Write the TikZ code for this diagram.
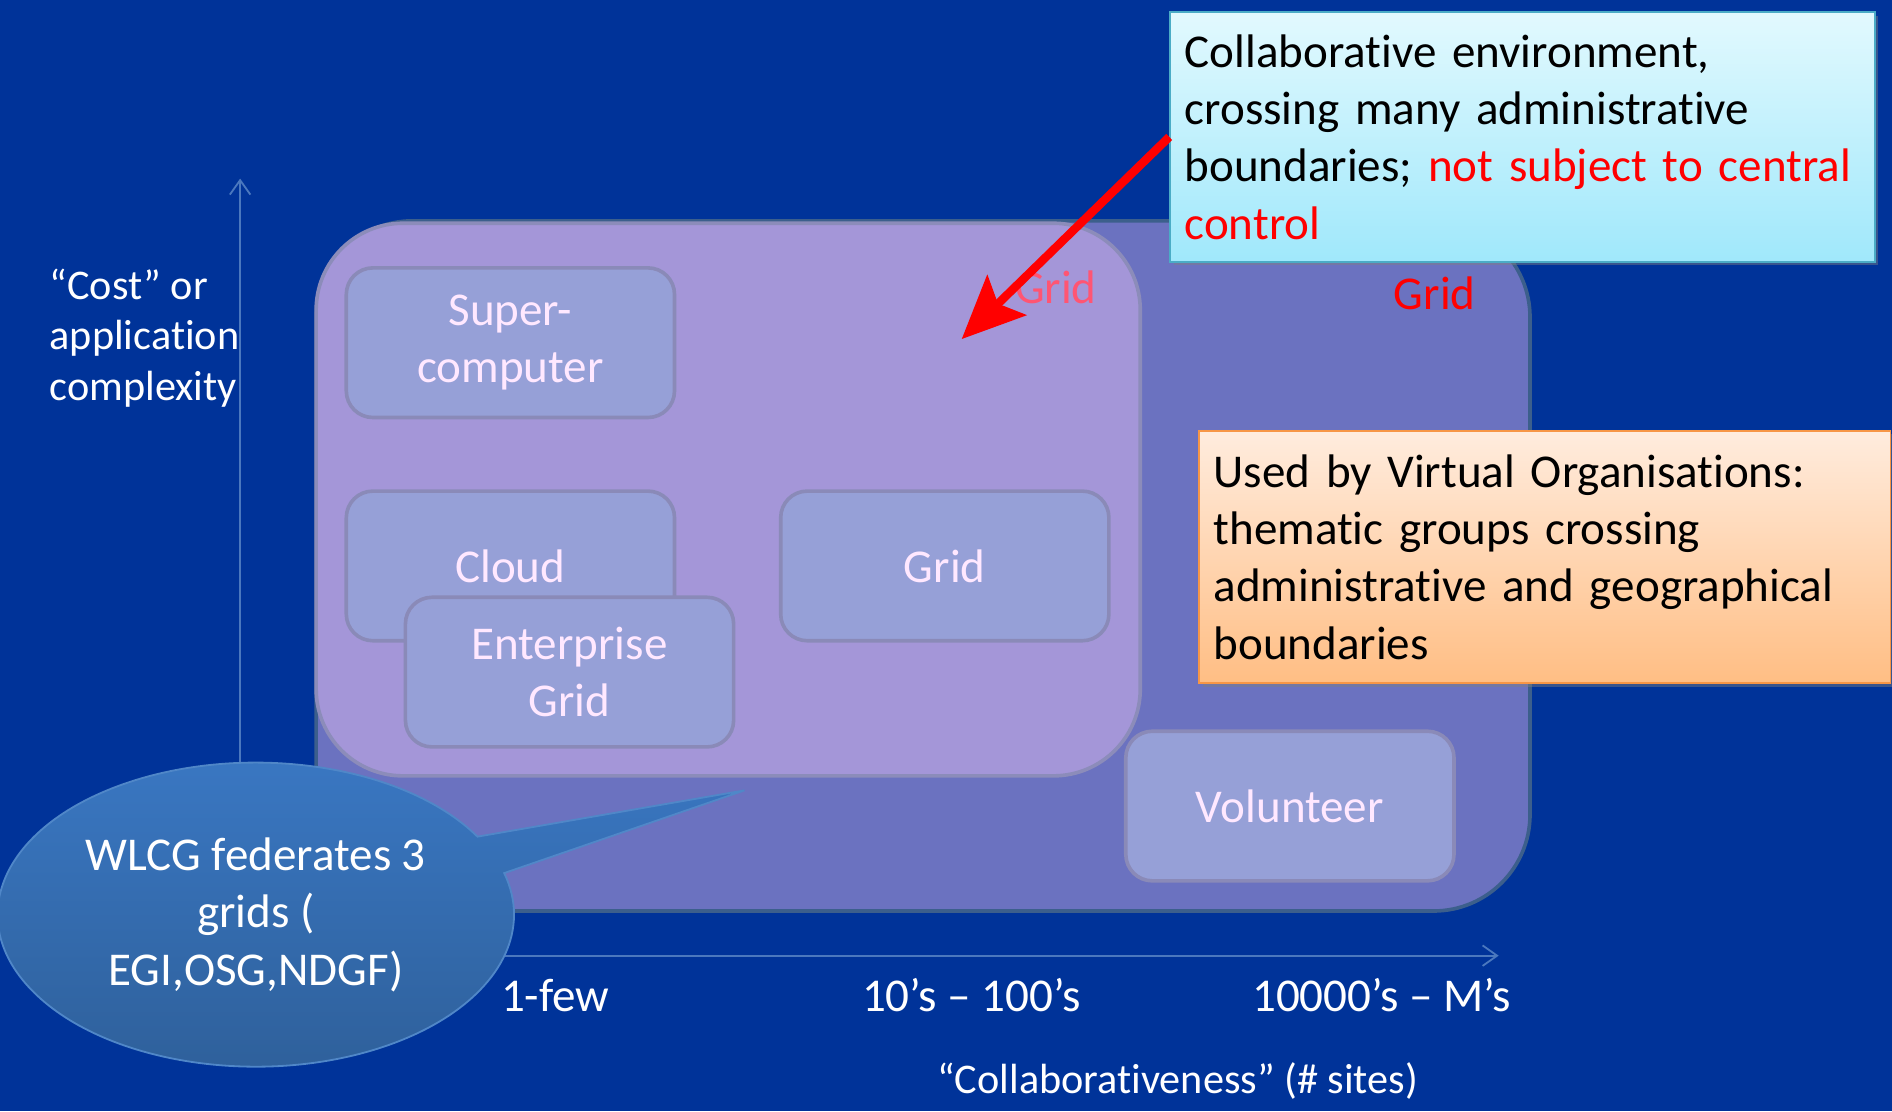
\documentclass[tikz,border=0pt]{standalone}
\usepackage{fontspec}
\setmainfont{Carlito}[Ligatures=NoCommon]
\usepackage{xcolor}
\usetikzlibrary{arrows.meta,shapes.callouts,shadows}

\definecolor{slideblue}{RGB}{0,51,153}
\definecolor{outerfill}{RGB}{107,114,192}
\definecolor{outerline}{RGB}{60,95,140}
\definecolor{innerfill}{RGB}{164,150,216}
\definecolor{innerline}{RGB}{140,140,186}
\definecolor{kindfill}{RGB}{150,160,215}
\definecolor{kindline}{RGB}{138,138,184}
\definecolor{kindtext}{RGB}{255,232,255}
\definecolor{axisblue}{RGB}{75,120,190}
\definecolor{palered}{RGB}{255,85,115}
\definecolor{bubbletop}{RGB}{58,120,196}
\definecolor{bubblefill}{RGB}{46,95,153}
\definecolor{bubbleline}{RGB}{80,135,200}
\definecolor{cyantop}{RGB}{226,249,254}
\definecolor{cyanbottom}{RGB}{160,232,251}
\definecolor{cyanline}{RGB}{75,172,198}
\definecolor{orangetop}{RGB}{255,236,222}
\definecolor{orangebottom}{RGB}{255,190,132}
\definecolor{orangeline}{RGB}{247,150,70}

\newcommand{\boxfont}{\fontsize{39}{47.5}\selectfont}
\newcommand{\axisfont}{\fontsize{35}{42}\selectfont}

\tikzset{
  gridarea/.style={line width=3pt, rounded corners=80pt, inner sep=0pt},
  kind/.style={draw=kindline, fill=kindfill, line width=3pt, rounded corners=22pt,
    minimum width=272pt, minimum height=124pt, inner sep=0pt, align=center,
    text=kindtext, font=\boxfont},
  note/.style={anchor=west, line width=1.5pt, inner xsep=12pt, inner ysep=0pt, align=left,
    text=black, font={\boxfont\hyphenpenalty=10000},
    drop shadow={shadow xshift=3pt, shadow yshift=-3pt, opacity=0.45}},
  axisline/.style={draw=axisblue, line width=1.5pt, -{Straight Barb[length=12pt,width=17pt]}},
  axislabel/.style={text=white, font=\boxfont, inner sep=0pt}
}

\begin{document}
\begin{tikzpicture}[x=1pt,y=1pt,yscale=-1,xscale=1]
%set diagram size to the slide
\useasboundingbox (0,0) rectangle (1568,921);
\fill [slideblue] (0,0) rectangle (1568,921);

%Axes
\coordinate (origin) at (199,792);
\coordinate (costend) at (199,148);
\coordinate (collabend) at (1242,792);
\draw [axisline] (origin) -- (costend);
\draw [axisline] (origin) -- (collabend);

%Rounded Rect
\node (outergrid) at (765,469) [gridarea, draw=outerline, fill=outerfill, minimum width=1006pt, minimum height=572pt] {};
%Rounded Rect
\node (innergrid) at (603.5,414) [gridarea, draw=innerline, fill=innerfill, rounded corners=72pt, minimum width=683pt, minimum height=458pt] {};

% Text Node
\node (innerlabel) at (875,238) [text=palered, font=\boxfont, inner sep=0pt] {Grid};
% Text Node
\node (outerlabel) at (1189,243) [text=red, font=\boxfont, inner sep=0pt] {Grid};

%Rounded Rect
\node (super) at (423,284) [kind] {Super-\\computer};
\node (cloud) at (423,469) [kind] {Cloud};
\node (enterprise) at (472,557) [kind] {Enterprise\\Grid};
\node (gridbox) at (783,469) [kind] {Grid};
\node (volunteer) at (1069,668) [kind] {Volunteer};

% Text Node
\node (costlabel) at (41,280) [anchor=west, text=white, font=\axisfont, align=left, inner sep=0pt] {“Cost” or\\application\\complexity};
% Text Node
\node (few) at (460,825) [axislabel] {1-few};
\node (tens) at (805,825) [axislabel] {10’s – 100’s};
\node (many) at (1145,825) [axislabel] {10000’s – M’s};
\node (collablabel) at (976,896) [text=white, font=\axisfont, inner sep=0pt] {“Collaborativeness” (\# sites)};

%Callout boxes
\node (cyanbox) at (969,113.5) [note, draw=cyanline, top color=cyantop, bottom color=cyanbottom, text width=560pt, minimum height=207pt]
  {Collaborative environment,\\crossing many administrative\\boundaries; \textcolor{red}{not subject to central}\\\textcolor{red}{control}};
\node (orangebox) at (993,461.5) [note, draw=orangeline, top color=orangetop, bottom color=orangebottom, text width=549pt, minimum height=209pt]
  {Used by Virtual Organisations:\\thematic groups crossing\\administrative and geographical\\boundaries};

%Red arrow
\coordinate (gridpoint) at (797,281);
\draw [red, line width=7pt, -{Stealth[length=52pt,width=46pt,inset=10pt]}] (cyanbox.west) -- (gridpoint);

%Speech bubble
\node (wlcg) at (212,758) [ellipse callout, callout absolute pointer={(617,655)}, draw=bubbleline, line width=1.5pt,
  top color=bubbletop, middle color=bubblefill, bottom color=bubblefill,
  minimum width=428pt, minimum height=252pt, inner sep=0pt, align=center, text=white, font=\boxfont]
  {WLCG federates 3\\grids (\\EGI,OSG,NDGF)};

\end{tikzpicture}
\end{document}
